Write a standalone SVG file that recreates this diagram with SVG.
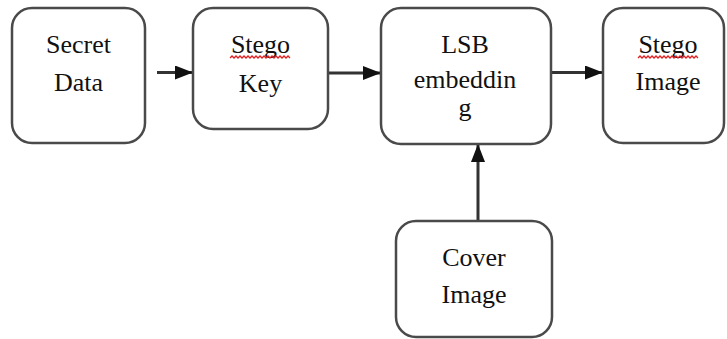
<svg xmlns="http://www.w3.org/2000/svg" width="727" height="339" viewBox="0 0 727 339">
<style>
.box{fill:#fff;stroke:#4a4a4a;stroke-width:2.5}
.t{font-family:"Liberation Serif","Times New Roman",serif;font-size:26px;fill:#111;text-anchor:middle}
.c{stroke:#333;stroke-width:3;fill:none}
.sq{stroke:#e02020;stroke-width:1.3;fill:none}
</style>
<defs>
<marker id="ah" markerWidth="18" markerHeight="14" refX="18" refY="7" orient="auto" markerUnits="userSpaceOnUse">
<path d="M0,0 L18,7 L0,14 Z" fill="#111"/>
</marker>
</defs>
<g id="connectors">
<line class="c" x1="157" y1="72.5" x2="193" y2="72.5" marker-end="url(#ah)"/>
<line class="c" x1="328" y1="73" x2="381" y2="73" marker-end="url(#ah)"/>
<line class="c" x1="551" y1="72.5" x2="603" y2="72.5" marker-end="url(#ah)"/>
<line class="c" x1="478" y1="221" x2="478" y2="144" marker-end="url(#ah)"/>
</g>
<g id="secret-data">
<rect class="box" x="12" y="8" width="133" height="135" rx="20"/>
<text class="t" x="78.5" y="53">Secret</text>
<text class="t" x="78.5" y="91">Data</text>
</g>
<g id="stego-key">
<rect class="box" x="193" y="8" width="135" height="121" rx="20"/>
<text class="t" x="260.5" y="53">Stego</text>
<path class="sq" d="M230,58 l2,-2 l2,2 l2,-2 l2,2 l2,-2 l2,2 l2,-2 l2,2 l2,-2 l2,2 l2,-2 l2,2 l2,-2 l2,2 l2,-2 l2,2 l2,-2 l2,2 l2,-2 l2,2 l2,-2 l2,2 l2,-2 l2,2 l2,-2 l2,2 l2,-2 l2,2 l2,-2 l2,2"/>
<text class="t" x="260.5" y="92">Key</text>
</g>
<g id="lsb-embedding">
<rect class="box" x="381" y="8" width="170" height="136" rx="20"/>
<text class="t" x="465" y="53">LSB</text>
<text class="t" x="465" y="88">embeddin</text>
<text class="t" x="465" y="116">g</text>
</g>
<g id="stego-image">
<rect class="box" x="603" y="8" width="121" height="135" rx="20"/>
<text class="t" x="668" y="53">Stego</text>
<path class="sq" d="M638,58 l2,-2 l2,2 l2,-2 l2,2 l2,-2 l2,2 l2,-2 l2,2 l2,-2 l2,2 l2,-2 l2,2 l2,-2 l2,2 l2,-2 l2,2 l2,-2 l2,2 l2,-2 l2,2 l2,-2 l2,2 l2,-2 l2,2 l2,-2 l2,2 l2,-2 l2,2 l2,-2 l2,2"/>
<text class="t" x="668" y="90">Image</text>
</g>
<g id="cover-image">
<rect class="box" x="396" y="221" width="156" height="116" rx="20"/>
<text class="t" x="474" y="266">Cover</text>
<text class="t" x="474" y="303">Image</text>
</g>
</svg>
